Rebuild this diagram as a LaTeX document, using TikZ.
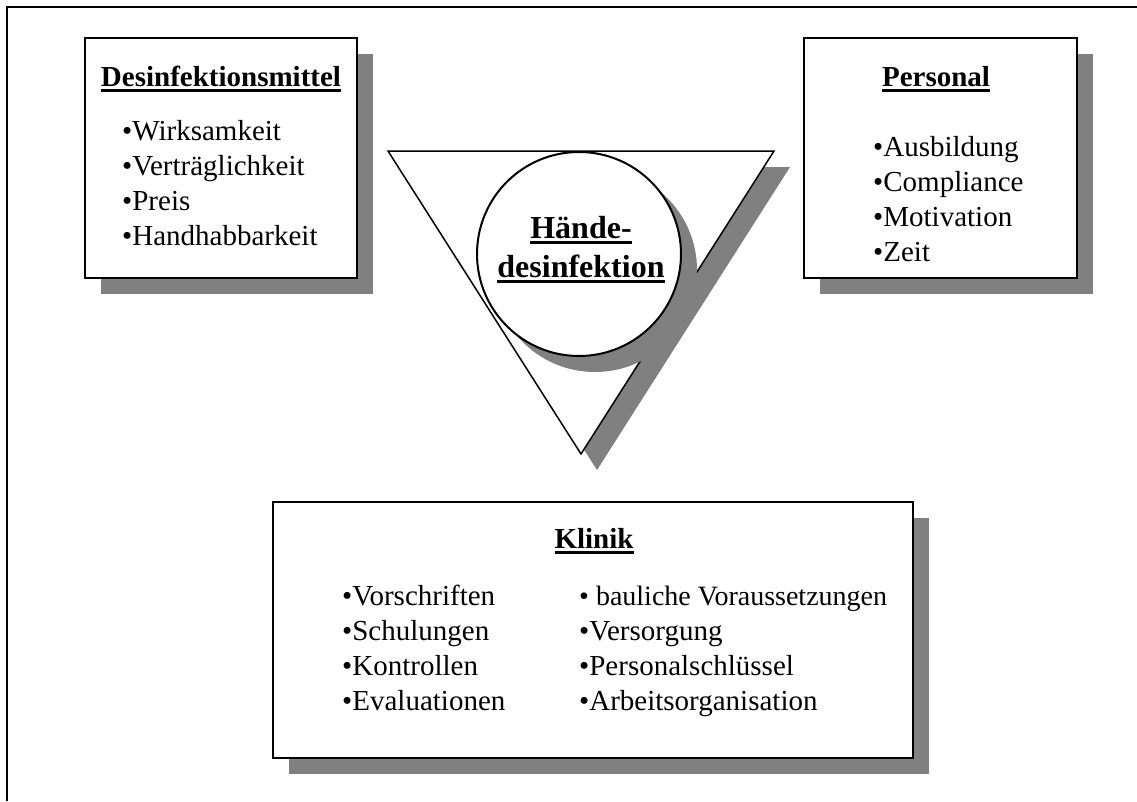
\documentclass[tikz,border=0pt]{standalone}
\usepackage{fontspec}
\setmainfont{Liberation Serif}
\usetikzlibrary{shadows}
\definecolor{shadowgray}{HTML}{808080}
\newcommand{\ulhead}[1]{\leavevmode\setbox0=\hbox{\bfseries #1}\rlap{\rule[-6pt]{\wd0}{3pt}}\box0}

\tikzset{
	box/.style={draw, line width=2pt, fill=white, general shadow={fill=shadowgray, draw=none, shadow xshift=16pt, shadow yshift=-16pt}},
	head/.style={font=\fontsize{29}{35}\selectfont, inner sep=0pt, anchor=base},
	item/.style={font=\fontsize{29}{35}\selectfont, inner sep=0pt, anchor=base west}
}

\begin{document}
\begin{tikzpicture}[x=1pt, y=-1pt]
	\useasboundingbox (0,0) rectangle (1137,801);

	\coordinate (FB) at (7,801);
	\coordinate (FC) at (7,7);
	\coordinate (FR) at (1137,7);
	\draw[line width=2pt] (FB)--(FC)--(FR);

	\node[box, minimum width=272, minimum height=240] (DM) at (221,158) {};
	\node[head] (DMT) at (221,86) {\ulhead{Desinfektionsmittel}};
	\foreach \t [count=\i] in {Wirksamkeit, Verträglichkeit, Preis, Handhabbarkeit}
		\node[item] (DM\i) at (122, 105+35*\i) {•\t};

	\node[box, minimum width=273, minimum height=240] (PE) at (940.5,158) {};
	\node[head] (PET) at (936,86) {\ulhead{Personal}};
	\foreach \t [count=\i] in {Ausbildung, Compliance, Motivation, Zeit}
		\node[item] (PE\i) at (873, 121+35*\i) {•\t};

	\coordinate (TL) at (388,151);
	\coordinate (TR) at (774,151);
	\coordinate (TB) at (581,454);
	\fill[shadowgray] ([xshift=16pt,yshift=-16pt]TL)--([xshift=16pt,yshift=-16pt]TR)--([xshift=16pt,yshift=-16pt]TB)--cycle;
	\filldraw[fill=white, line width=1.5pt] (TL)--(TR)--(TB)--cycle;

	\node[box, circle, minimum size=204, inner sep=0pt] (HD) at (579,254) {};
	\node[anchor=base, inner sep=0pt, font=\fontsize{32}{39}\selectfont] (HD1) at (581,238) {\ulhead{Hände-}};
	\node[anchor=base, inner sep=0pt, font=\fontsize{32}{39}\selectfont] (HD2) at (581,277) {\ulhead{desinfektion}};

	\node[box, minimum width=640, minimum height=256] (KL) at (593,630) {};
	\node[head] (KLT) at (594,548) {\ulhead{Klinik}};
	\foreach \t [count=\i] in {Vorschriften, Schulungen, Kontrollen, Evaluationen}
		\node[item] (KA\i) at (342, 570+35*\i) {•\t};
	\foreach \t [count=\i] in {{\fontsize{28}{35}\selectfont• bauliche Voraussetzungen}, •Versorgung, •Personalschlüssel, •Arbeitsorganisation}
		\node[item] (KB\i) at (579, 570+35*\i) {\t};
\end{tikzpicture}
\end{document}
